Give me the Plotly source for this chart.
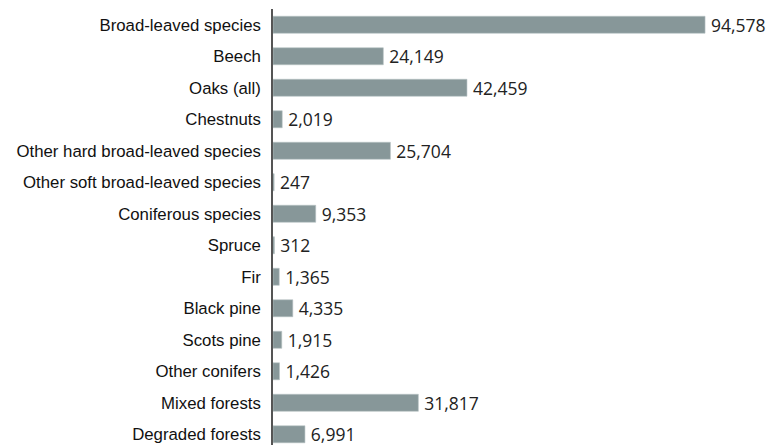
import plotly.graph_objects as go

categories = [
    "Broad-leaved species",
    "Beech",
    "Oaks (all)",
    "Chestnuts",
    "Other hard broad-leaved species",
    "Other soft broad-leaved species",
    "Coniferous species",
    "Spruce",
    "Fir",
    "Black pine",
    "Scots pine",
    "Other conifers",
    "Mixed forests",
    "Degraded forests",
]
values = [94578, 24149, 42459, 2019, 25704, 247, 9353, 312, 1365, 4335, 1915, 1426, 31817, 6991]
labels = [f"{v:,}" for v in values]

fig = go.Figure(
    go.Bar(
        x=values,
        y=categories,
        orientation="h",
        width=0.54,
        marker=dict(color="#879799", line=dict(color="#b9c3c4", width=0.6)),
        text=labels,
        texttemplate="\u2009%{text}",
        textposition="outside",
        constraintext="none",
        textfont=dict(family="Open Sans, sans-serif", size=17.5, color="#222222"),
        cliponaxis=False,
    )
)

fig.update_layout(
    width=781,
    height=445,
    margin=dict(l=273, r=0, t=9, b=0),
    paper_bgcolor="white",
    plot_bgcolor="white",
    showlegend=False,
    xaxis=dict(
        range=[0, 111200],
        visible=False,
        showgrid=False,
        zeroline=False,
    ),
    yaxis=dict(
        type="category",
        range=[13.34, -0.5],
        showgrid=False,
        zeroline=False,
        showline=True,
        linecolor="#555555",
        linewidth=1.5,
        ticks="",
        ticklabelstandoff=7,
        tickfont=dict(family="Liberation Sans, Arial, sans-serif", size=16.8, color="#111111"),
    ),
)

fig.write_html("out.html")
